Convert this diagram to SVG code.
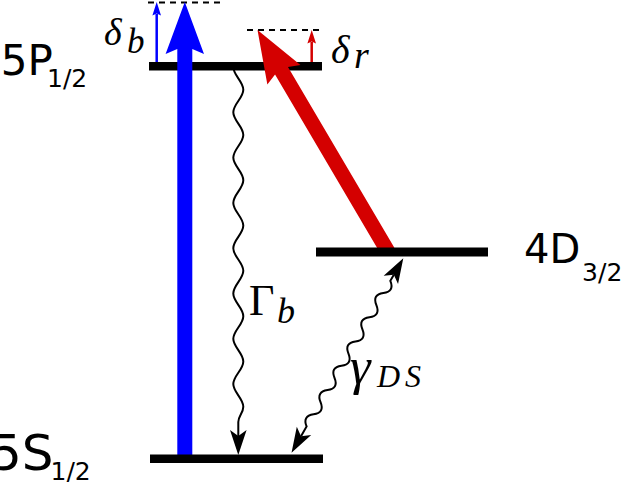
<svg xmlns="http://www.w3.org/2000/svg" width="623" height="482" viewBox="0 0 623 482">
<style>
.bar{fill:#000}
.lvl{font-family:"DejaVu Sans",sans-serif;fill:#000}
.math{font-family:"Liberation Serif","Times New Roman",serif;font-style:italic;fill:#000}
.up{font-style:normal}
.wave{fill:none;stroke:#000;stroke-width:2}
.dash{fill:none;stroke:#000;stroke-width:2;stroke-dasharray:6,5}
.blue{fill:#0000ff}
.red{fill:#d40000}
</style>
<defs>
<marker id="ah" viewBox="-26 -10 28 20" refX="-19" refY="0" markerWidth="28" markerHeight="20" markerUnits="userSpaceOnUse" orient="auto-start-reverse">
<path d="M0,0 L-25,-8.3 L-19,0 L-25,8.3 Z" fill="#000"/>
</marker>
</defs>
<g id="level-5P">
<rect class="bar" x="149" y="62" width="173" height="8.5"/>
<text class="lvl" x="0.8" y="75" font-size="42">5P</text>
<text class="lvl" x="47" y="87" font-size="25">1/2</text>
</g>
<g id="connectors">
<path class="dash" d="M148,2.5 H222"/>
<path class="dash" d="M247,30 H320"/>
<g id="delta-b">
<line x1="156.7" y1="62" x2="156.7" y2="14" stroke="#0000ff" stroke-width="2.5"/>
<path class="blue" d="M156.7,2 L161,15.5 L156.7,13.5 L152.4,15.5 Z"/>
</g>
<g id="delta-r">
<line x1="311.7" y1="62" x2="311.7" y2="42" stroke="#d40000" stroke-width="2.5"/>
<path class="red" d="M311.7,30 L316,43.5 L311.7,41.5 L307.4,43.5 Z"/>
</g>
<path id="blue-laser" class="blue" d="M184.8,2 L204,54 L192.3,49 L192.3,458 L177.3,458 L177.3,49 L165.6,54 Z"/>
<path id="red-laser" class="red" transform="translate(257.5,30) rotate(-30.5)" d="M0,0 L19.2,52 L7.5,47.3 L7.5,257 L-7.5,257 L-7.5,47.3 L-19.2,52 Z"/>
<path id="gamma-b" class="wave" marker-end="url(#ah)" d="M233.3,67 C233.3,75.24 243.3,81.41 243.3,89.65 S233.3,104.06 233.3,112.3 S243.3,126.71 243.3,134.95 S233.3,149.36 233.3,157.6 S243.3,172.01 243.3,180.25 S233.3,194.66 233.3,202.9 S243.3,217.31 243.3,225.55 S233.3,239.96 233.3,248.2 S243.3,262.61 243.3,270.85 S233.3,285.26 233.3,293.5 S243.3,307.91 243.3,316.15 S233.3,330.56 233.3,338.8 S243.3,353.21 243.3,361.45 S233.3,375.86 233.3,384.1 S243.3,398.51 243.3,406.75 C243.3,413 238.3,416 238.3,422 L238.3,436"/>
<path id="gamma-ds" class="wave" transform="translate(403.3,258.3) rotate(119.9)" marker-start="url(#ah)" marker-end="url(#ah)" d="M19,0 L26,0 Q33,-9 40,0 T54,0 T68,0 T82,0 T96,0 T110,0 T124,0 T138,0 T152,0 T166,0 T180,0 T194,0 L205.2,0"/>
<text class="math" x="104" y="45" font-size="38">δ<tspan x="127" y="53" font-size="35">b</tspan></text>
<text class="math" x="331" y="63" font-size="40">δ<tspan x="354" y="68" font-size="38">r</tspan></text>
<text class="math" x="249" y="315" font-size="44"><tspan class="up">Γ</tspan><tspan x="277" y="323" font-size="36">b</tspan></text>
<text class="math" x="350" y="384" font-size="52">γ<tspan x="377" y="387" font-size="32" letter-spacing="5">DS</tspan></text>
</g>
<g id="level-5S">
<rect class="bar" x="150" y="454.5" width="173" height="8.5"/>
<text class="lvl" x="-10.1" y="469.5" font-size="50">5S</text>
<text class="lvl" x="50.5" y="479.5" font-size="25">1/2</text>
</g>
<g id="level-4D">
<rect class="bar" x="316" y="247.5" width="172" height="9"/>
<text class="lvl" x="524" y="263" font-size="40">4D</text>
<text class="lvl" x="582.1" y="281" font-size="25">3/2</text>
</g>
</svg>
